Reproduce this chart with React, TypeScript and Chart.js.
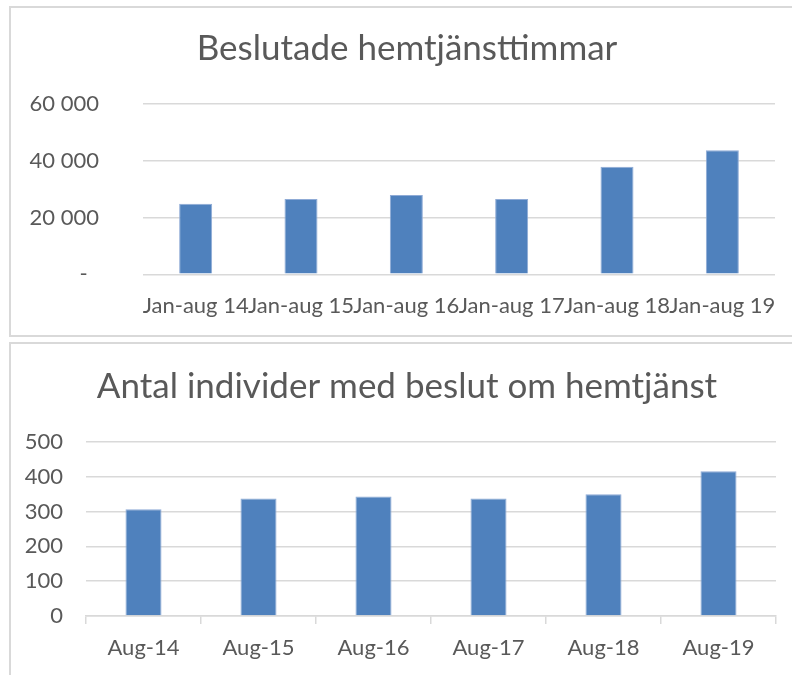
import React, { useEffect, useRef } from 'react';
import { Chart, registerables } from 'chart.js';

Chart.register(...registerables);

// ---- Data ----
const hoursCategories = ['Jan-aug 14', 'Jan-aug 15', 'Jan-aug 16', 'Jan-aug 17', 'Jan-aug 18', 'Jan-aug 19'];
const hoursValues = [24900, 26500, 27900, 26500, 37900, 43700];
const hoursTickLabels = ['-', '20 000', '40 000', '60 000'];

const individualsCategories = ['Aug-14', 'Aug-15', 'Aug-16', 'Aug-17', 'Aug-18', 'Aug-19'];
const individualsValues = [306, 337, 343, 337, 349, 415];
const individualsTickLabels = ['0', '100', '200', '300', '400', '500'];

const hoursTitle = 'Beslutade hemtjänsttimmar';
const individualsTitle = 'Antal individer med beslut om hemtjänst';

// ---- Styles ----
const FONT = 'Lato';
const TEXT = '#595959';
const GRID = '#d9d9d9';
const BAR = '#4f81bd';
const BAR_EDGE = '#8fabd6';
const XTICK_SIZE = 22;
const YTICK_SIZE = 22;
const CANVAS_W = 814; // wider than the page: title centred on the (clipped) frame

type Spec = {
  height: number;
  categories: string[];
  values: number[];
  tickLabels: string[];
  title: string;
  titleWidth: number;
  yMax: number;
  yStep: number;
  area: { left: number; right: number; top: number; bottom: number };
  titleCenter: number;
  yLabelRight: number;
  xLabelCenter: number;
  xTicks: boolean;
  zeroPad: string;
};

function titleSizeFor(text: string, width: number) {
  const ctx = document.createElement('canvas').getContext('2d');
  if (!ctx) return 32;
  ctx.font = `100px ${FONT}`;
  const w = ctx.measureText(text).width;
  return Math.round((100 * width) / w * 10) / 10;
}

function makeChart(canvas: HTMLCanvasElement, s: Spec) {
  const titleSize = titleSizeFor(s.title, s.titleWidth);
  const lh = titleSize * 1.2;
  const titleTop = s.titleCenter - lh / 2;
  const titleBottom = s.area.top - titleTop - lh;
  const tl = s.xTicks ? 8 : 0;
  const tickLh = XTICK_SIZE * 1.2;
  const xPad = s.xLabelCenter - s.area.bottom - tl - tickLh / 2;
  return new Chart(canvas, {
    type: 'bar',
    data: {
      labels: s.categories,
      datasets: [
        {
          data: s.values,
          backgroundColor: BAR,
          borderColor: BAR_EDGE,
          borderWidth: 1,
          barPercentage: 0.3135,
          categoryPercentage: 1,
        },
      ],
    },
    options: {
      responsive: false,
      animation: false,
      devicePixelRatio: 1,
      layout: { padding: 0 },
      plugins: {
        legend: { display: false },
        tooltip: { enabled: false },
        title: {
          display: true,
          text: s.title,
          color: TEXT,
          font: { family: FONT, size: titleSize, weight: 'normal', lineHeight: 1.2 },
          padding: { top: titleTop, bottom: titleBottom },
        },
      },
      scales: {
        x: {
          offset: true,
          grid: {
            display: s.xTicks,
            drawOnChartArea: false,
            drawTicks: s.xTicks,
            tickLength: 8,
            color: GRID,
            lineWidth: 1.5,
            offset: true,
          },
          border: { display: s.xTicks, color: GRID, width: 1.5 },
          ticks: {
            color: TEXT,
            font: { family: FONT, size: XTICK_SIZE, lineHeight: 1.2 },
            padding: xPad,
            autoSkip: false,
            maxRotation: 0,
            minRotation: 0,
          },
          afterFit: (sc: any) => {
            sc.height = s.height - s.area.bottom;
            sc.paddingLeft = 0;
            sc.paddingRight = 0;
          },
        },
        y: {
          min: 0,
          max: s.yMax,
          grid: { color: GRID, lineWidth: 1.5, drawTicks: false },
          border: { display: false },
          ticks: {
            stepSize: s.yStep,
            color: TEXT,
            font: { family: FONT, size: YTICK_SIZE, lineHeight: 1.2 },
            padding: s.area.left - s.yLabelRight,
            callback: (_v: any, i: number) => {
              const t = s.tickLabels[i];
              return i === 0 ? t + s.zeroPad : t;
            },
          },
          afterFit: (sc: any) => {
            sc.width = s.area.left;
            sc.paddingTop = 0;
            sc.paddingBottom = 0;
          },
        },
        yRight: {
          type: 'linear',
          axis: 'y',
          position: 'right',
          display: true,
          grid: { display: false, drawTicks: false },
          border: { display: false },
          ticks: { display: false },
          afterFit: (sc: any) => {
            sc.width = CANVAS_W - s.area.right;
            sc.paddingTop = 0;
            sc.paddingBottom = 0;
          },
        },
      },
    },
  } as any);
}

function ChartBox(props: { spec: Spec; top: number }) {
  const ref = useRef<HTMLCanvasElement | null>(null);
  useEffect(() => {
    if (!ref.current) return;
    const c = makeChart(ref.current, props.spec);
    return () => c.destroy();
  }, []);
  return (
    <canvas
      ref={ref}
      width={CANVAS_W}
      height={props.spec.height}
      style={{
        position: 'absolute',
        left: 0,
        top: props.top,
        width: CANVAS_W,
        height: props.spec.height,
      }}
    />
  );
}

const topSpec: Spec = {
  height: 340,
  categories: hoursCategories,
  values: hoursValues,
  tickLabels: hoursTickLabels,
  title: hoursTitle,
  titleWidth: 421,
  yMax: 60000,
  yStep: 20000,
  area: { left: 143, right: 775, top: 104, bottom: 274.3 },
  titleCenter: 49,
  yLabelRight: 99,
  xLabelCenter: 306,
  xTicks: false,
  zeroPad: '  ',
};

const bottomSpec: Spec = {
  height: 335,
  categories: individualsCategories,
  values: individualsValues,
  tickLabels: individualsTickLabels,
  title: individualsTitle,
  titleWidth: 621,
  yMax: 500,
  yStep: 100,
  area: { left: 86, right: 776, top: 101.7, bottom: 276 },
  titleCenter: 46.5,
  yLabelRight: 63,
  xLabelCenter: 308,
  xTicks: true,
  zeroPad: '',
};

export default function App() {
  return (
    <div
      style={{
        position: 'fixed',
        left: 0,
        top: 0,
        width: 792,
        height: 675,
        overflow: 'hidden',
        background: '#ffffff',
      }}
    >
      <div
        style={{
          position: 'absolute',
          left: 9,
          top: 6,
          width: 820,
          height: 331,
          border: `2px solid ${GRID}`,
          boxSizing: 'border-box',
        }}
      />
      <div
        style={{
          position: 'absolute',
          left: 9,
          top: 342,
          width: 820,
          height: 400,
          border: `2px solid ${GRID}`,
          boxSizing: 'border-box',
        }}
      />
      <ChartBox spec={topSpec} top={0} />
      <ChartBox spec={bottomSpec} top={340} />
    </div>
  );
}
